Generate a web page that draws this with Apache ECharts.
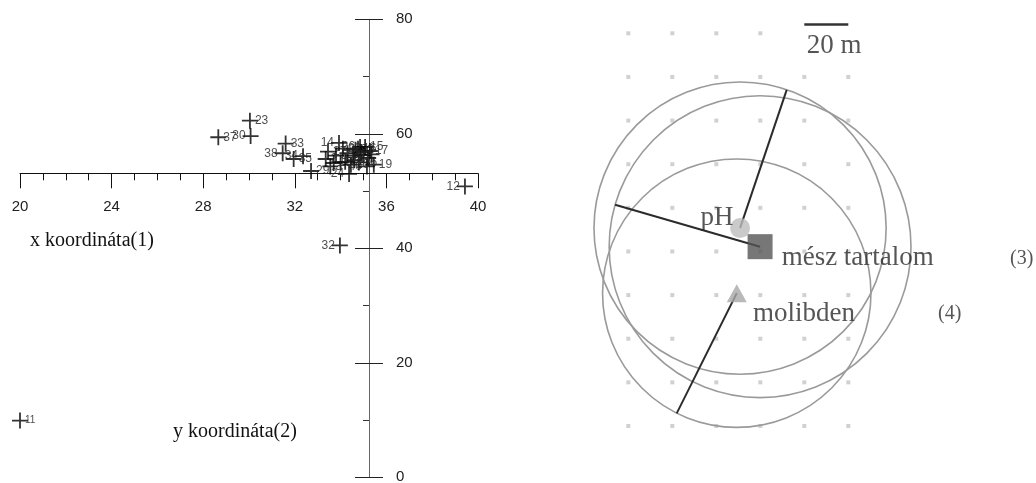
<!DOCTYPE html>
<html><head><meta charset="utf-8">
<script src="https://cdn.jsdelivr.net/npm/echarts@6/dist/echarts.min.js"></script>
<style>html,body{margin:0;padding:0;background:#fff}#c{width:1036px;height:483px}</style>
</head><body><div id="c"></div>
<script>
// ---------- left panel: scatter of point coordinates ----------
const pointNames = ['11','12','32','23','37','30','33','38','34','35','29','24','14','26','16','15','17','19','40','21','10',
  '2','3','5','6','7','8','9','13','18','20','22','25','27','28','31','36'];
const pointX = [20.0,39.43,33.97,30.04,28.66,30.07,31.60,31.47,32.36,31.95,32.71,34.37,33.93,34.85,34.76,35.07,35.28,35.45,35.15,34.20,34.60,
  33.35,33.55,33.80,34.00,34.30,34.55,34.90,33.70,35.00,34.45,34.65,35.20,33.45,34.10,35.35,34.80];
const pointY = [9.9,50.8,40.5,62.3,59.4,59.6,58.3,56.6,56.1,55.6,53.5,53.0,58.4,57.7,57.4,57.7,57.0,54.6,54.3,55.1,55.4,
  55.6,54.3,56.2,55.0,56.6,56.2,56.8,54.9,56.3,54.6,57.2,55.8,56.9,57.4,56.4,55.0];
const labelSide = ['right','left','left','right','right','left','right','left','left','right','right','left','left','left','right','right','right','right','left','right','right',
  'right','right','right','right','right','right','right','right','left','right','right','left','right','right','left','right'];
const xTickMin = 20, xTickMax = 40, xTickStep = 4;
const yTickMin = 0, yTickMax = 80, yTickStep = 20;
const crossX = 35.24, crossY = 53.1;   // where the two axes cross

// ---------- right panel: map of influence circles (metres) ----------
const dotCols = [0,20,40,60,80,100];
const dotRows = [0,20,40,60,80,100,120,140,160,180];
const centerNames = ['pH','mész tartalom','molibden'];
const centerX = [50.8, 59.9, 49.3];
const centerY = [90.7, 82.2, 60.9];
const radiusM = [66.4, 68.6, 61.0];
const radiusEndX = [72.0, -6.0, 22.0];
const radiusEndY = [154.1, 101.4, 5.8];
const scaleBarLen = 20;  // 20 m

const annotations = [
  {text:'pH', x:40.3, y:95.4, align:'center', size:27},
  {text:'mész tartalom', x:69.7, y:77.1, align:'left', size:27},
  {text:'molibden', x:56.7, y:51.4, align:'left', size:27},
  {text:'20 m', x:81.1, y:174.1, align:'left', size:27},
  {text:'(3)', x:173.5, y:76.8, align:'left', size:20},
  {text:'(4)', x:140.8, y:51.6, align:'left', size:20}
];

const plusPath = 'path://M0,7.1H16V8.9H0ZM7.1,0H8.9V16H7.1Z';
const sans = 'Liberation Sans', serif = 'Liberation Serif';

const dots = [];
dotRows.forEach(r => dotCols.forEach(c => { if (!(r === 180 && c >= 80)) dots.push([c, r]); }));

const chart = echarts.init(document.getElementById('c'), null, {renderer:'canvas'});
const option = {
  animation:false,
  backgroundColor:'#fff',
  grid:[
    {left:20, top:19.3, width:458, height:458, containLabel:false, outerBoundsMode:'none'},
    {left:584.3, top:11.5, width:440, height:436.3, containLabel:false, outerBoundsMode:'none'}
  ],
  xAxis:[
    {gridIndex:0, type:'value', min:xTickMin, max:xTickMax, interval:xTickStep, position:'bottom',
     axisLine:{onZero:false, lineStyle:{color:'#111', width:1}},
     axisTick:{show:true, length:15, lineStyle:{color:'#111'}},
     minorTick:{show:true, splitNumber:4, length:7, lineStyle:{color:'#111'}},
     axisLabel:{margin:26, fontFamily:sans, fontSize:15, color:'#222', showMinLabel:true, showMaxLabel:true},
     splitLine:{show:false}},
    {gridIndex:1, type:'value', min:-20, max:180, show:false, splitLine:{show:false}}
  ],
  yAxis:[
    {gridIndex:0, type:'value', min:yTickMin, max:yTickMax, interval:yTickStep, position:'left',
     axisLine:{onZero:false, lineStyle:{color:'#666', width:1}},
     axisTick:{show:true, length:14, lineStyle:{color:'#222'}},
     minorTick:{show:true, splitNumber:2, length:6, lineStyle:{color:'#333'}},
     axisLabel:{show:false}, splitLine:{show:false}},
    {gridIndex:0, type:'value', min:yTickMin, max:yTickMax, interval:yTickStep, position:'right',
     axisLine:{show:false, onZero:false},
     axisTick:{show:true, length:14, lineStyle:{color:'#222'}},
     axisLabel:{margin:27, fontFamily:sans, fontSize:15, color:'#222', showMinLabel:true, showMaxLabel:true},
     splitLine:{show:false}},
    {gridIndex:1, type:'value', min:-10, max:190, show:false, splitLine:{show:false}}
  ],
  graphic:[
    {type:'text', left:30, top:231, style:{text:'x koordináta(1)', font:'20px "Liberation Serif"', fill:'#111'}},
    {type:'text', left:173, top:422, style:{text:'y koordináta(2)', font:'20px "Liberation Serif"', fill:'#111'}}
  ],
  series:[
    {type:'scatter', xAxisIndex:0, yAxisIndex:0, symbol:plusPath, symbolSize:16,
     itemStyle:{color:'#000'}, z:5,
     data: pointNames.map((n,i)=>({name:n, value:[pointX[i], pointY[i]],
        label:{show:true, position:labelSide[i], distance:-3, formatter:n,
               fontFamily:sans, fontSize: n==='11'?10:12, color:'#222'}}))},
    // right panel
    {type:'scatter', xAxisIndex:1, yAxisIndex:2, symbol:'rect', symbolSize:4,
     itemStyle:{color:'#c6c6c6'}, data:dots, silent:true, z:1},
    {type:'custom', xAxisIndex:1, yAxisIndex:2, silent:true, clip:false, z:2,
     data: centerX.map((x,i)=>[x, centerY[i], radiusM[i]]),
     renderItem:(params, api)=>{
       const c = api.coord([api.value(0), api.value(1)]);
       const r = api.size([api.value(2), 0])[0];
       return {type:'circle', shape:{cx:c[0], cy:c[1], r:r}, style:{fill:'none', stroke:'#9a9a9a', lineWidth:1.6}};
     }},
    {type:'custom', xAxisIndex:1, yAxisIndex:2, silent:true, clip:false, z:3,
     data: centerX.map((x,i)=>[x, centerY[i], radiusEndX[i], radiusEndY[i]]),
     renderItem:(params, api)=>{
       const a = api.coord([api.value(0), api.value(1)]);
       const b = api.coord([api.value(2), api.value(3)]);
       return {type:'line', shape:{x1:a[0], y1:a[1], x2:b[0], y2:b[1]}, style:{stroke:'#2b2b2b', lineWidth:2}};
     }},
    {type:'line', xAxisIndex:1, yAxisIndex:2, symbol:'none', silent:true, z:3,
     lineStyle:{color:'#333', width:2.5},
     data:[[80,184],[80+scaleBarLen,184]]},
    {type:'scatter', xAxisIndex:1, yAxisIndex:2, silent:true, z:4,
     data:[
       {name:centerNames[0], value:[centerX[0], centerY[0]], symbol:'circle', symbolSize:20, itemStyle:{color:'#bdbdbd'}},
       {name:centerNames[2], value:[centerX[2], centerY[2]], symbol:'triangle', symbolSize:[20,18], itemStyle:{color:'#a8a8a8'}},
       {name:centerNames[1], value:[centerX[1], centerY[1]], symbol:'rect', symbolSize:25, itemStyle:{color:'#555'}}
     ]},
    {type:'scatter', xAxisIndex:1, yAxisIndex:2, silent:true, z:6, symbolSize:0, clip:false,
     data: annotations.map(a=>({value:[a.x, a.y], label:{show:true, position:'inside', formatter:a.text,
        align:a.align, verticalAlign:'middle', fontFamily:serif, fontSize:a.size, color:'#2a2a2a'}}))}
  ]
};
chart.setOption(option);
// move the axes so they cross at (crossX, crossY)
const pc = chart.convertToPixel({gridIndex:0}, [crossX, crossY]);
const p0 = chart.convertToPixel({gridIndex:0}, [xTickMin, yTickMin]);
const p1 = chart.convertToPixel({gridIndex:0}, [xTickMax, yTickMax]);
chart.setOption({
  xAxis:[{offset: pc[1] - p0[1]}, {}],
  yAxis:[{offset: p0[0] - pc[0]}, {offset: pc[0] - p1[0]}, {}]
});
</script></body></html>
